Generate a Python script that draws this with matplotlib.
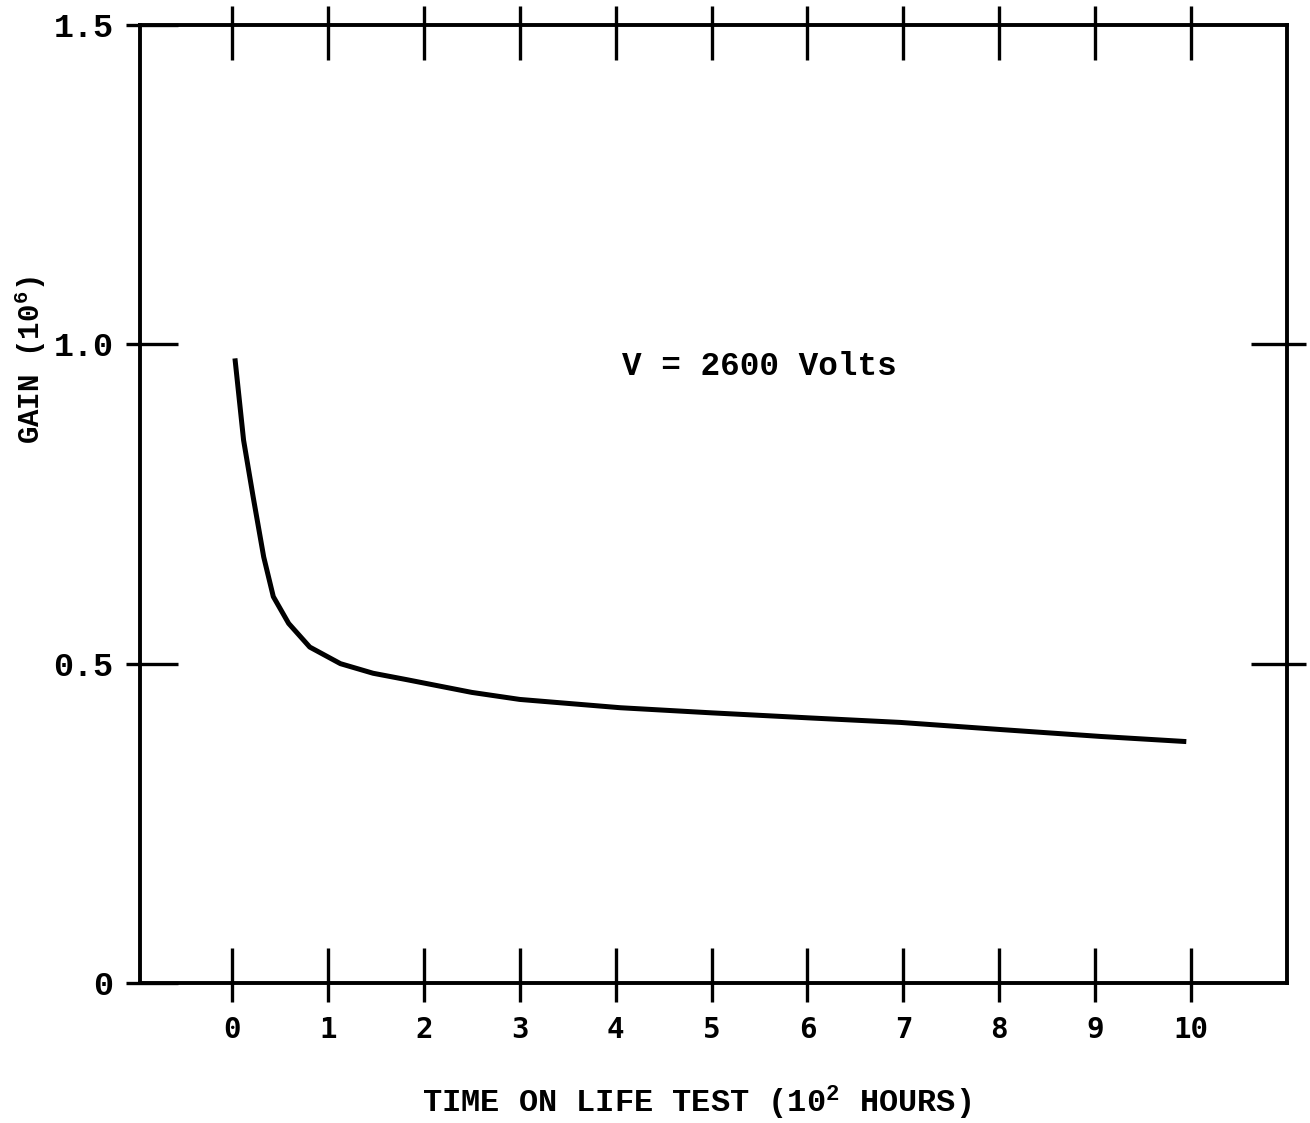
import matplotlib
matplotlib.use("Agg")
import matplotlib.pyplot as plt
from matplotlib.ticker import FixedLocator

# Data
time_hours = [0.03, 0.12, 0.22, 0.33, 0.43, 0.59, 0.81, 1.13, 1.47, 1.82, 2.5, 3.0, 4.05, 5.0, 6.03, 6.97, 8.0, 9.06, 9.95]
gain = [0.978, 0.850, 0.761, 0.667, 0.605, 0.563, 0.526, 0.500, 0.485, 0.475, 0.455, 0.444, 0.431, 0.423, 0.415, 0.408, 0.397, 0.386, 0.378]
x_ticks = list(range(0, 11))
x_tick_labels = [str(v) for v in x_ticks]
y_ticks = [0, 0.5, 1.0, 1.5]
y_tick_labels = ["0", "0.5", "1.0", "1.5"]
right_ticks = [0.5, 1.0]
annotation = "V = 2600 Volts"
xlabel = "TIME ON LIFE TEST (10$^{\\mathbf{2}}$ HOURS)"
ylabel = "GAIN (10$^{\\mathbf{6}}$)"

mono = "Liberation Mono"
plt.rcParams["mathtext.fontset"] = "custom"
plt.rcParams["mathtext.rm"] = "Liberation Mono:bold"
plt.rcParams["mathtext.bf"] = "Liberation Mono:bold"
plt.rcParams["mathtext.it"] = "Liberation Mono:bold"

fig = plt.figure(figsize=(13.10, 11.23), dpi=100)
ax = fig.add_axes([140/1310, 1 - 983/1123, (1287-140)/1310, (983-25)/1123])

ax.plot(time_hours, gain, color="black", lw=3.6, solid_joinstyle="round", solid_capstyle="butt")

ax.set_xlim(-0.96, 11.0)
ax.set_ylim(0, 1.5)

for s in ax.spines.values():
    s.set_linewidth(2.8)

# x axis: ticks on bottom and top, crossing the spine
ax.xaxis.set_major_locator(FixedLocator(x_ticks))
ax.xaxis.set_minor_locator(FixedLocator(x_ticks))
ax.xaxis.remove_overlapping_locs = False
ax.set_xticklabels(x_tick_labels)
ax.tick_params(axis="x", which="major", direction="in", length=25, width=2.4,
               top=True, bottom=True, pad=24)
ax.tick_params(axis="x", which="minor", direction="out", length=14, width=2.4,
               top=True, bottom=True, labelbottom=False)

# y axis: left ticks with labels, right ticks at 0.5 and 1.0
ax.yaxis.set_major_locator(FixedLocator(y_ticks))
ax.yaxis.set_minor_locator(FixedLocator(y_ticks))
ax.yaxis.remove_overlapping_locs = False
ax.set_yticklabels(y_tick_labels)
ax.tick_params(axis="y", which="major", direction="in", length=27, width=2.4,
               left=True, right=False, pad=19)
ax.tick_params(axis="y", which="minor", direction="out", length=10, width=2.4,
               left=True, right=False)

axr = ax.secondary_yaxis("right")
axr.yaxis.set_major_locator(FixedLocator(right_ticks))
axr.yaxis.set_minor_locator(FixedLocator(right_ticks))
axr.yaxis.remove_overlapping_locs = False
axr.tick_params(axis="y", which="major", direction="in", length=26, width=2.4, labelright=False)
axr.tick_params(axis="y", which="minor", direction="out", length=14, width=2.4, labelright=False)
axr.spines["right"].set_visible(False)

for lab in ax.get_xticklabels():
    lab.set_fontfamily("DejaVu Sans Mono")
    lab.set_fontweight("bold")
    lab.set_fontsize(21)
for lab in ax.get_yticklabels():
    lab.set_fontfamily(mono)
    lab.set_fontweight("bold")
    lab.set_fontsize(24)

ax.text(4.07, 0.966, annotation, fontfamily=mono, fontweight="bold",
        fontsize=23.5, ha="left", va="center")

fig.text(696/1310, 1 - 1103/1123, xlabel, fontfamily=mono, fontweight="bold",
         fontsize=23, ha="center", va="center")
fig.text(30/1310, 1 - 360/1123, ylabel, fontfamily=mono, fontweight="bold",
         fontsize=21, ha="center", va="center", rotation=90)

fig.savefig("out.png", dpi=100, facecolor="white")
